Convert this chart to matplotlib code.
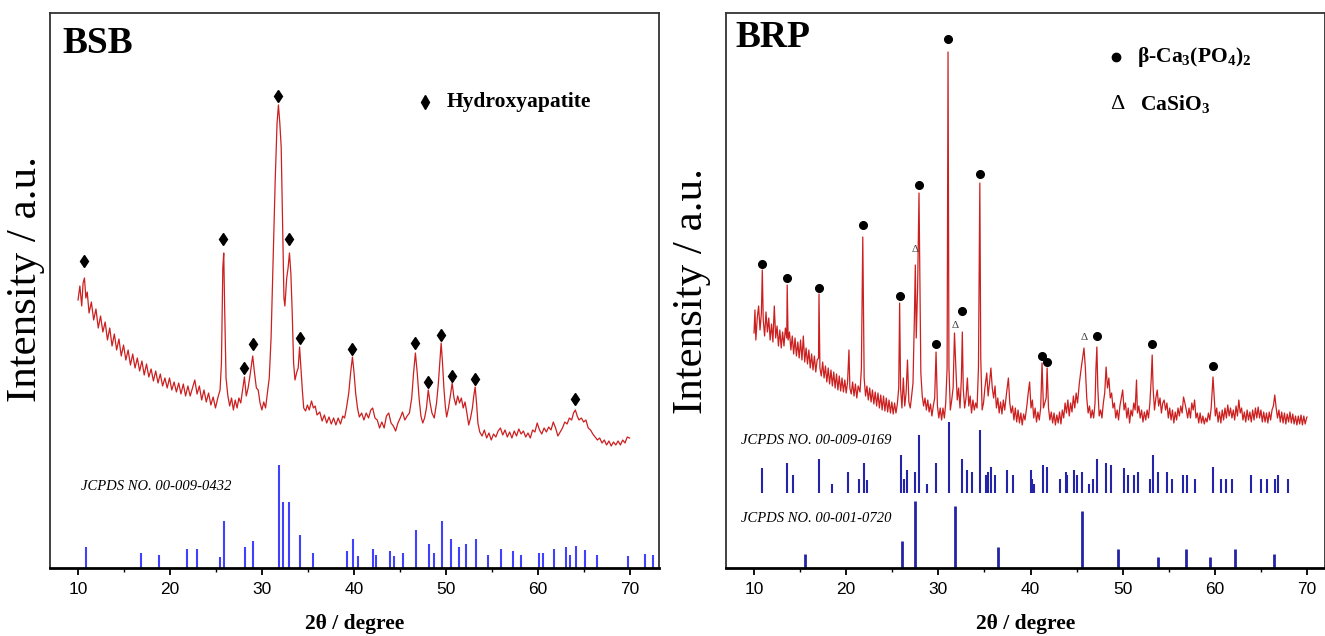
import matplotlib
matplotlib.use("Agg")
import matplotlib.pyplot as plt
from matplotlib.ticker import MultipleLocator

plt.rcParams["font.family"] = "Liberation Serif"
plt.rcParams["mathtext.fontset"] = "custom"
plt.rcParams["mathtext.rm"] = "Liberation Serif:bold"
plt.rcParams["mathtext.it"] = "Liberation Serif:bold"
plt.rcParams["mathtext.bf"] = "Liberation Serif:bold"

# ---- BSB pattern (2theta, intensity a.u.) ----
bsb_pattern = [
    (10.0, 268), (10.2, 282), (10.4, 262), (10.55, 285), (10.7, 290), (10.85, 270),
    (11.0, 276), (11.2, 255), (11.45, 266), (11.7, 248), (11.95, 259), (12.2, 240),
    (12.45, 252), (12.7, 236), (12.95, 246), (13.2, 228), (13.45, 240), (13.7, 222),
    (13.95, 234), (14.2, 218), (14.45, 229), (14.7, 212), (14.95, 223), (15.2, 208),
    (15.45, 218), (15.7, 203), (15.95, 214), (16.2, 200), (16.45, 210), (16.7, 197),
    (16.95, 207), (17.2, 193), (17.45, 204), (17.7, 191), (17.95, 199), (18.2, 187),
    (18.45, 197), (18.7, 185), (18.95, 194), (19.2, 182), (19.45, 190), (19.7, 180),
    (19.95, 190), (20.2, 178), (20.45, 186), (20.7, 176), (20.95, 185), (21.2, 174),
    (21.45, 184), (21.7, 172), (21.95, 182), (22.2, 172), (22.45, 180), (22.7, 188),
    (22.95, 174), (23.2, 182), (23.45, 168), (23.7, 178), (23.95, 166), (24.2, 175),
    (24.45, 163), (24.7, 171), (24.95, 160), (25.2, 170), (25.45, 178), (25.6, 205),
    (25.75, 300), (25.85, 315), (25.95, 260), (26.1, 190), (26.3, 172), (26.5, 162),
    (26.7, 170), (26.9, 158), (27.1, 168), (27.3, 160), (27.5, 170), (27.7, 165),
    (27.9, 178), (28.1, 191), (28.3, 172), (28.5, 180), (28.7, 192), (29.0, 212),
    (29.2, 195), (29.4, 180), (29.6, 178), (29.8, 165), (30.0, 158), (30.2, 166),
    (30.4, 160), (30.6, 175), (30.8, 190), (31.0, 230), (31.2, 300), (31.45, 388),
    (31.65, 445), (31.8, 463), (31.95, 445), (32.1, 421), (32.25, 345), (32.4, 270),
    (32.5, 262), (32.7, 290), (32.85, 300), (33.0, 315), (33.15, 295), (33.3, 255),
    (33.45, 205), (33.6, 188), (33.8, 196), (33.95, 200), (34.1, 221), (34.25, 200),
    (34.4, 178), (34.55, 160), (34.75, 157), (34.95, 163), (35.15, 158), (35.4, 167),
    (35.6, 160), (35.8, 162), (36.0, 153), (36.3, 156), (36.55, 147), (36.8, 153),
    (37.05, 145), (37.3, 151), (37.55, 144), (37.8, 150), (38.05, 143), (38.3, 150),
    (38.55, 144), (38.8, 152), (39.0, 150), (39.2, 160), (39.45, 175), (39.65, 195),
    (39.85, 211), (40.0, 198), (40.2, 175), (40.4, 160), (40.6, 151), (40.85, 155),
    (41.1, 148), (41.35, 155), (41.6, 150), (41.85, 158), (42.05, 160), (42.3, 150),
    (42.55, 148), (42.8, 140), (43.05, 146), (43.3, 140), (43.55, 152), (43.8, 155),
    (44.05, 145), (44.3, 142), (44.55, 137), (44.8, 145), (45.05, 150), (45.3, 156),
    (45.55, 148), (45.8, 152), (46.05, 155), (46.3, 170), (46.5, 195), (46.7, 215),
    (46.9, 195), (47.1, 170), (47.3, 152), (47.5, 145), (47.7, 150), (47.9, 160),
    (48.1, 178), (48.3, 165), (48.5, 155), (48.75, 150), (49.0, 165), (49.2, 185),
    (49.35, 205), (49.5, 225), (49.65, 205), (49.8, 180), (49.95, 162), (50.1, 151),
    (50.3, 160), (50.5, 172), (50.7, 185), (50.9, 170), (51.1, 163), (51.3, 172),
    (51.5, 165), (51.7, 170), (51.9, 160), (52.1, 166), (52.3, 155), (52.5, 143),
    (52.7, 150), (52.9, 160), (53.05, 172), (53.2, 181), (53.35, 165), (53.5, 145),
    (53.7, 136), (53.95, 132), (54.2, 138), (54.45, 130), (54.7, 135), (54.95, 128),
    (55.2, 134), (55.45, 131), (55.7, 137), (55.95, 140), (56.2, 133), (56.45, 138),
    (56.7, 131), (56.95, 136), (57.2, 130), (57.45, 137), (57.7, 132), (57.95, 139),
    (58.2, 134), (58.45, 137), (58.7, 131), (58.95, 135), (59.2, 130), (59.45, 138),
    (59.7, 136), (59.95, 145), (60.2, 138), (60.45, 134), (60.7, 140), (60.95, 136),
    (61.2, 141), (61.45, 138), (61.7, 146), (61.95, 140), (62.2, 132), (62.45, 136),
    (62.7, 140), (62.95, 146), (63.2, 144), (63.45, 150), (63.7, 148), (63.9, 155),
    (64.1, 158), (64.3, 152), (64.5, 148), (64.75, 150), (65.0, 146), (65.25, 148),
    (65.5, 140), (65.75, 138), (66.0, 134), (66.25, 131), (66.5, 128), (66.75, 130),
    (67.0, 125), (67.25, 128), (67.5, 123), (67.75, 127), (68.0, 122), (68.25, 126),
    (68.5, 123), (68.75, 127), (69.0, 123), (69.25, 128), (69.5, 125), (69.75, 131),
    (70.0, 130),
]

# hydroxyapatite peak markers (2theta, marker height)
bsb_marks = [(10.7, 307), (25.8, 329), (28.1, 200), (29.0, 224), (31.8, 472),
             (33.0, 329), (34.1, 230), (39.85, 219), (46.7, 225), (48.1, 186),
             (49.5, 233), (50.7, 192), (53.2, 189), (64.1, 169)]

# JCPDS 00-009-0432 reference lines
hap_pos = [10.85, 16.9, 18.8, 21.9, 22.9, 25.4, 25.9, 28.2, 29.0, 31.9, 32.3, 33.0,
           34.1, 35.6, 39.3, 39.9, 40.5, 42.1, 42.4, 43.9, 44.4, 45.4, 46.8, 48.2,
           48.7, 49.6, 50.6, 51.4, 52.2, 53.3, 54.6, 56.0, 57.3, 58.2, 60.1, 60.6,
           61.8, 63.1, 63.5, 64.2, 65.1, 66.5, 69.8, 71.7, 72.5]
hap_int = [21, 15, 13, 19, 19, 11, 47, 21, 27, 103, 66, 66,
           33, 15, 17, 29, 12, 19, 13, 17, 12, 15, 38, 24,
           15, 47, 29, 21, 24, 29, 13, 19, 17, 13, 15, 15,
           19, 21, 13, 22, 18, 13, 12, 14, 13]

# ---- BRP pattern ----
brp_pattern = [
    (10.0, 235), (10.1, 258), (10.2, 228), (10.35, 250), (10.5, 262), (10.65, 238),
    (10.8, 255), (10.9, 298), (11.0, 248), (11.15, 232), (11.3, 256), (11.45, 236),
    (11.6, 250), (11.75, 228), (11.9, 244), (12.05, 226), (12.2, 262), (12.35, 230),
    (12.5, 242), (12.65, 222), (12.8, 238), (12.95, 220), (13.1, 236), (13.25, 222),
    (13.4, 240), (13.55, 230), (13.6, 283), (13.7, 228), (13.85, 236), (14.0, 218),
    (14.15, 232), (14.3, 214), (14.45, 230), (14.6, 212), (14.75, 226), (14.9, 210),
    (15.05, 228), (15.2, 208), (15.35, 232), (15.5, 206), (15.65, 220), (15.8, 204),
    (15.95, 218), (16.1, 200), (16.25, 214), (16.4, 198), (16.55, 212), (16.7, 196),
    (16.85, 208), (17.0, 210), (17.05, 274), (17.15, 200), (17.3, 192), (17.45, 206),
    (17.6, 190), (17.75, 202), (17.9, 186), (18.05, 200), (18.2, 184), (18.35, 198),
    (18.5, 182), (18.65, 196), (18.8, 180), (18.95, 194), (19.1, 178), (19.25, 192),
    (19.4, 177), (19.55, 190), (19.7, 176), (19.85, 188), (20.0, 175), (20.15, 186),
    (20.3, 218), (20.4, 180), (20.55, 174), (20.7, 186), (20.85, 172), (21.0, 184),
    (21.15, 170), (21.3, 182), (21.5, 176), (21.65, 200), (21.8, 331), (21.95, 190),
    (22.1, 172), (22.25, 182), (22.4, 168), (22.55, 180), (22.7, 166), (22.85, 178),
    (23.0, 164), (23.15, 176), (23.3, 162), (23.45, 175), (23.6, 160), (23.75, 173),
    (23.9, 158), (24.05, 172), (24.2, 157), (24.35, 170), (24.5, 156), (24.65, 168),
    (24.8, 155), (24.95, 166), (25.1, 154), (25.25, 165), (25.4, 155), (25.55, 164),
    (25.7, 180), (25.8, 265), (25.9, 180), (26.05, 160), (26.2, 190), (26.35, 162),
    (26.5, 175), (26.65, 208), (26.8, 166), (26.95, 160), (27.1, 172), (27.25, 185),
    (27.4, 250), (27.5, 303), (27.6, 230), (27.75, 280), (27.9, 375), (28.0, 290),
    (28.1, 195), (28.25, 172), (28.4, 162), (28.55, 170), (28.7, 158), (28.85, 168),
    (29.0, 156), (29.15, 164), (29.3, 152), (29.45, 162), (29.6, 170), (29.75, 216),
    (29.9, 162), (30.05, 150), (30.2, 160), (30.35, 148), (30.5, 160), (30.65, 150),
    (30.8, 165), (30.95, 200), (31.05, 516), (31.15, 200), (31.3, 158), (31.45, 168),
    (31.6, 180), (31.75, 235), (31.9, 200), (32.05, 168), (32.2, 180), (32.35, 160),
    (32.5, 190), (32.6, 236), (32.7, 180), (32.85, 160), (33.0, 170), (33.15, 190),
    (33.3, 162), (33.45, 172), (33.6, 155), (33.75, 168), (33.9, 158), (34.05, 165),
    (34.2, 160), (34.35, 200), (34.5, 385), (34.6, 210), (34.75, 158), (34.9, 165),
    (35.05, 180), (35.25, 195), (35.4, 172), (35.55, 185), (35.7, 200), (35.85, 180),
    (36.0, 170), (36.15, 182), (36.3, 160), (36.45, 170), (36.6, 155), (36.75, 166),
    (36.9, 154), (37.05, 168), (37.2, 158), (37.4, 175), (37.6, 190), (37.75, 165),
    (37.9, 155), (38.05, 162), (38.2, 148), (38.35, 160), (38.5, 146), (38.65, 158),
    (38.8, 145), (38.95, 155), (39.1, 143), (39.25, 154), (39.4, 148), (39.6, 162),
    (39.75, 175), (39.9, 186), (40.05, 160), (40.2, 168), (40.35, 150), (40.5, 160),
    (40.65, 146), (40.8, 156), (40.95, 148), (41.1, 160), (41.25, 205), (41.4, 160),
    (41.55, 165), (41.7, 170), (41.8, 200), (41.95, 160), (42.1, 148), (42.25, 156),
    (42.4, 145), (42.55, 155), (42.7, 143), (42.85, 153), (43.0, 145), (43.15, 156),
    (43.3, 144), (43.45, 158), (43.6, 150), (43.75, 165), (43.9, 155), (44.05, 168),
    (44.2, 152), (44.35, 165), (44.5, 156), (44.65, 172), (44.8, 160), (44.95, 175),
    (45.1, 165), (45.3, 185), (45.5, 200), (45.65, 210), (45.8, 220), (45.95, 200),
    (46.1, 170), (46.25, 155), (46.4, 162), (46.55, 150), (46.7, 158), (46.85, 150),
    (47.0, 165), (47.1, 200), (47.2, 221), (47.3, 180), (47.45, 152), (47.6, 158),
    (47.75, 150), (47.9, 165), (48.05, 175), (48.2, 201), (48.35, 180), (48.5, 190),
    (48.65, 170), (48.8, 175), (48.95, 160), (49.1, 165), (49.25, 150), (49.4, 158),
    (49.55, 148), (49.7, 162), (49.85, 170), (50.0, 178), (50.15, 158), (50.3, 165),
    (50.45, 150), (50.6, 160), (50.75, 145), (50.9, 158), (51.05, 152), (51.2, 165),
    (51.35, 158), (51.5, 188), (51.6, 155), (51.75, 162), (51.9, 150), (52.05, 158),
    (52.2, 146), (52.35, 156), (52.5, 148), (52.65, 158), (52.8, 150), (52.95, 165),
    (53.1, 190), (53.2, 213), (53.3, 180), (53.45, 158), (53.6, 170), (53.75, 178),
    (53.9, 162), (54.05, 170), (54.2, 155), (54.35, 165), (54.5, 168), (54.65, 158),
    (54.8, 165), (54.95, 150), (55.1, 160), (55.25, 148), (55.4, 158), (55.55, 145),
    (55.7, 156), (55.85, 148), (56.0, 160), (56.15, 152), (56.3, 162), (56.45, 155),
    (56.6, 171), (56.75, 165), (56.9, 158), (57.05, 150), (57.2, 160), (57.35, 150),
    (57.5, 165), (57.65, 158), (57.8, 168), (57.95, 150), (58.1, 155), (58.25, 145),
    (58.4, 155), (58.55, 145), (58.7, 152), (58.85, 144), (59.0, 150), (59.15, 146),
    (59.3, 155), (59.45, 148), (59.6, 160), (59.7, 175), (59.8, 191), (59.9, 175),
    (60.05, 152), (60.2, 160), (60.35, 146), (60.5, 156), (60.65, 145), (60.8, 158),
    (60.95, 148), (61.1, 160), (61.25, 150), (61.4, 163), (61.55, 152), (61.7, 160),
    (61.85, 150), (62.0, 158), (62.15, 148), (62.3, 162), (62.45, 152), (62.6, 168),
    (62.75, 155), (62.9, 160), (63.05, 148), (63.2, 156), (63.35, 146), (63.5, 158),
    (63.65, 148), (63.8, 156), (63.95, 146), (64.1, 158), (64.25, 148), (64.4, 160),
    (64.55, 150), (64.7, 161), (64.85, 150), (65.0, 158), (65.15, 146), (65.3, 156),
    (65.45, 146), (65.6, 155), (65.75, 145), (65.9, 156), (66.05, 148), (66.2, 158),
    (66.35, 162), (66.5, 173), (66.65, 160), (66.8, 150), (66.95, 158), (67.1, 146),
    (67.25, 156), (67.4, 145), (67.55, 155), (67.7, 144), (67.85, 154), (68.0, 146),
    (68.15, 156), (68.3, 145), (68.45, 154), (68.6, 144), (68.75, 152), (68.9, 143),
    (69.05, 152), (69.2, 144), (69.35, 153), (69.5, 143), (69.65, 152), (69.8, 144),
    (69.95, 150), (70.0, 151),
]

tcp_marks = [(10.9, 304), (13.6, 290), (17.05, 280), (21.8, 343), (25.8, 272),
             (27.9, 383), (29.75, 224), (31.05, 529), (32.6, 257), (34.5, 394),
             (41.25, 212), (41.8, 206), (47.2, 232), (53.2, 224), (59.8, 202)]
casio3_marks = [(27.5, 318), (31.8, 243), (45.8, 230)]

# JCPDS 00-009-0169 (beta-TCP), drawn on a raised baseline
tcp_pos = [10.9, 13.6, 14.2, 17.0, 18.5, 20.2, 21.4, 21.9, 22.3, 25.9, 26.3, 26.6,
           27.5, 27.9, 28.8, 29.7, 31.2, 32.6, 33.1, 33.7, 34.5, 35.2, 35.4, 35.7,
           36.2, 37.5, 38.1, 40.0, 40.2, 40.4, 41.3, 41.8, 43.2, 43.8, 44.0, 44.7,
           45.0, 45.6, 46.3, 46.8, 47.2, 48.2, 48.7, 50.1, 50.6, 51.2, 51.7, 53.0,
           53.3, 53.8, 54.8, 55.4, 56.5, 57.0, 57.8, 59.8, 60.7, 61.2, 61.9, 63.9,
           65.0, 65.7, 66.5, 66.8, 67.9]
tcp_int = [25, 30, 18, 34, 9, 21, 14, 30, 13, 38, 14, 23,
           21, 58, 9, 30, 71, 34, 23, 21, 63, 18, 21, 26,
           18, 23, 18, 23, 14, 9, 28, 26, 14, 21, 18, 23,
           18, 21, 9, 14, 34, 30, 28, 25, 18, 18, 21, 14,
           38, 21, 21, 14, 18, 18, 14, 26, 14, 14, 14, 18,
           14, 14, 14, 18, 14]
tcp_base = 75

# JCPDS 00-001-0720 (CaSiO3)
cs_pos = [15.5, 26.1, 27.5, 31.8, 36.5, 45.6, 49.5, 53.8, 56.9, 59.5, 62.2, 66.4]
cs_int = [14, 27, 67, 62, 21, 57, 19, 11, 19, 11, 19, 14]

red = "#cc1f1f"
ymax = 555


def style_axes(ax, xlim):
    ax.set_xlim(*xlim)
    ax.set_ylim(0, ymax)
    ax.set_yticks([])
    ax.set_xticks(range(10, 80, 10))
    ax.set_xticklabels([str(v) for v in range(10, 80, 10)],
                       fontfamily="Liberation Sans", fontsize=12.5)
    ax.xaxis.set_minor_locator(MultipleLocator(5))
    ax.tick_params(axis="x", which="major", direction="out", length=5, width=1.3, pad=5)
    ax.tick_params(axis="x", which="minor", direction="out", length=3, width=1)
    for s in ax.spines.values():
        s.set_linewidth(1.3)
        s.set_color("#333333")
    ax.spines["bottom"].set_linewidth(2)
    ax.spines["bottom"].set_color("black")
    ax.set_xlabel("2θ / degree", fontsize=15.5, fontweight="bold", labelpad=12)
    ax.set_ylabel("Intensity / a.u.", fontsize=31)


fig = plt.figure(figsize=(13.25, 6.36), dpi=100)
ax1 = fig.add_axes([50 / 1325, 68 / 636, 609 / 1325, 555 / 636])
ax2 = fig.add_axes([726 / 1325, 68 / 636, 599 / 1325, 555 / 636])

# ---- left: BSB ----
x, y = zip(*bsb_pattern)
ax1.plot(x, y, color=red, lw=0.9)
mx, my = zip(*bsb_marks)
ax1.plot(mx, my, "d", color="black", ms=6, ls="none")
ax1.vlines(hap_pos, 0, hap_int, color="#4040ff", lw=1.5)
style_axes(ax1, (6.95, 73.2))
ax1.yaxis.set_label_coords(-0.008, 0.52)
ax1.text(0.02, 0.928, "BSB", transform=ax1.transAxes, fontsize=27,
         fontweight="bold", va="baseline")
ax1.plot([0.616], [0.840], "d", color="black", ms=7.5, transform=ax1.transAxes)
ax1.text(0.652, 0.840, "Hydroxyapatite", transform=ax1.transAxes, fontsize=15.5,
         fontweight="bold", va="center")
ax1.text(0.051, 0.146, "JCPDS NO. 00-009-0432", transform=ax1.transAxes,
         fontsize=10.5, style="italic", va="center")

# ---- right: BRP ----
x, y = zip(*brp_pattern)
ax2.plot(x, y, color=red, lw=0.9)
mx, my = zip(*tcp_marks)
ax2.plot(mx, my, "o", color="black", ms=5.5, ls="none")
for px, py in casio3_marks:
    ax2.text(px, py, "Δ", fontsize=8, color="#444444", ha="center", va="center")
ax2.vlines(tcp_pos, tcp_base, [tcp_base + h for h in tcp_int], color="#2424a8", lw=1.5)
ax2.vlines(cs_pos, 0, cs_int, color="#2424a8", lw=2)
style_axes(ax2, (6.96, 71.95))
ax2.yaxis.set_label_coords(-0.025, 0.5)
ax2.text(0.015, 0.939, "BRP", transform=ax2.transAxes, fontsize=27,
         fontweight="bold", va="baseline")
ax2.plot([0.651], [0.921], "o", color="black", ms=6, transform=ax2.transAxes)
ax2.text(0.686, 0.921, r"β-Ca$_3$(PO$_4$)$_2$", transform=ax2.transAxes,
         fontsize=15.5, fontweight="bold", va="center")
ax2.text(0.653, 0.836, "Δ", transform=ax2.transAxes, fontsize=16, ha="center",
         va="center")
ax2.text(0.691, 0.836, r"CaSiO$_3$", transform=ax2.transAxes, fontsize=15.5,
         fontweight="bold", va="center")
ax2.text(0.025, 0.229, "JCPDS NO. 00-009-0169", transform=ax2.transAxes,
         fontsize=10.5, style="italic", va="center")
ax2.text(0.025, 0.09, "JCPDS NO. 00-001-0720", transform=ax2.transAxes,
         fontsize=10.5, style="italic", va="center")

fig.savefig("out.png", dpi=100)
